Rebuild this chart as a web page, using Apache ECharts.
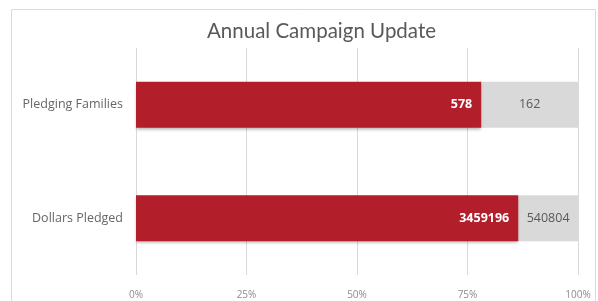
<!DOCTYPE html>
<html>
<head>
<meta charset="utf-8">
<script src="https://cdn.jsdelivr.net/npm/echarts@6/dist/echarts.min.js"></script>
<style>
  html, body { margin: 0; padding: 0; background: #fff; }
  #chart { width: 598px; height: 301px; }
</style>
</head>
<body>
<div id="chart"></div>
<script>
// categories, top to bottom
const categories = ["Pledging Families", "Dollars Pledged"];
// achieved / remaining
const achieved = [578, 3459196];
const remaining = [162, 540804];
const tickLabels = ["0%", "25%", "50%", "75%", "100%"];

// 100% stacked: share of each row total
const totals = achieved.map((v, i) => v + remaining[i]);
const achievedPct = achieved.map((v, i) => (v / totals[i]) * 100);
const remainingPct = remaining.map((v, i) => (v / totals[i]) * 100);

const font = "'Open Sans', 'Liberation Sans', sans-serif";

let myChart = echarts.init(document.getElementById("chart"));
let option = {
  animation: false,
  title: {
    text: "Annual Campaign Update",
    left: 202,
    top: 16,
    textStyle: { color: "#595959", fontSize: 20.5, fontWeight: "normal", fontFamily: "Lato, 'Open Sans', sans-serif" },
  },
  graphic: [
    {
      type: "rect",
      shape: { x: 11.5, y: 9.5, width: 584, height: 300 },
      style: { fill: "none", stroke: "#d9d9d9", lineWidth: 1 },
      silent: true,
    },
  ],
  grid: { left: 136, right: 20, top: 48, bottom: 26 },
  xAxis: {
    type: "value",
    min: 0,
    max: 100,
    interval: 25,
    axisLine: { show: false },
    axisTick: { show: false },
    splitLine: { lineStyle: { color: "#d9d9d9" } },
    axisLabel: {
      color: "#8c8c8c",
      fontSize: 10,
      fontFamily: font,
      margin: 15,
      formatter: (v) => tickLabels[v / 25],
    },
  },
  yAxis: {
    type: "category",
    inverse: true,
    data: categories,
    axisLine: { show: false },
    axisTick: { show: false },
    axisLabel: { color: "#666666", fontSize: 12.5, fontFamily: font, margin: 13 },
  },
  series: [
    {
      name: "Achieved",
      type: "bar",
      stack: "total",
      barWidth: 46,
      data: achievedPct,
      itemStyle: { color: "#b21f2b", shadowColor: "rgba(0,0,0,0.3)", shadowBlur: 3, shadowOffsetY: 2 },
      label: {
        show: true,
        position: "insideRight",
        distance: 9,
        color: "#fff",
        fontWeight: "bold",
        fontSize: 12.5,
        fontFamily: font,
        formatter: (p) => achieved[p.dataIndex],
      },
      z: 3,
    },
    {
      name: "Remaining",
      type: "bar",
      stack: "total",
      data: remainingPct,
      itemStyle: { color: "#d9d9d9" },
      label: {
        show: true,
        position: "inside",
        color: "#595959",
        fontSize: 12.5,
        fontFamily: font,
        formatter: (p) => remaining[p.dataIndex],
      },
      z: 2,
    },
  ],
};
myChart.setOption(option);
</script>
</body>
</html>
